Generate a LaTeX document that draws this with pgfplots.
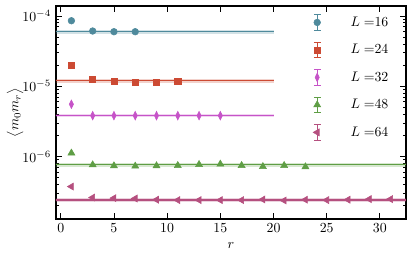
\documentclass[border=0pt]{standalone}
\usepackage{pgfplots}
\pgfplotsset{compat=1.18}
\definecolor{cA}{HTML}{4F8A9C}
\definecolor{cB}{HTML}{CC4A33}
\definecolor{cC}{HTML}{C653C8}
\definecolor{cD}{HTML}{5F9E45}
\definecolor{cE}{HTML}{B5507F}
\newcommand{\ebleg}[2]{%
  \path[draw=none,fill=none] (0cm,0cm) -- (0.3cm+22bp,0cm);
  \draw[draw=#1, line width=0.8bp] (0.3cm,-5.6bp)--(0.3cm,5.6bp) (0.3cm-2.4bp,-5.6bp)--(0.3cm+2.4bp,-5.6bp) (0.3cm-2.4bp,5.6bp)--(0.3cm+2.4bp,5.6bp);
  \draw[#2] plot coordinates {(0.3cm,0cm)};}
\pgfplotsset{ebl/.style={legend image code/.code={\ebleg{#1}{##1}}}}
\begin{document}
\begin{tikzpicture}
\begin{axis}[name=ax, scale only axis, width=252bp, height=153.4bp,
  xmin=-0.45, xmax=32.45, ymode=log, ymin=1.29e-7, ymax=1.39e-4,
  xtick={0,5,...,30}, xtick pos=both, ytick pos=both, tick align=inside,
  major tick length=4.3bp, minor tick length=2.2bp,
  axis line style={line width=0.9bp}, every tick/.style={black, line width=0.6bp},
  xlabel={$r$}, ylabel={$\big\langle m_0 m_r\big\rangle$},
  y label style={at={(axis description cs:-0.117,0.5)}, anchor=center, inner sep=0pt},
  clip=true,
  legend cell align=left,
  legend style={draw=none, fill=none, at={(0.70,0.977)}, anchor=north west, row sep=7.5bp},
]
% fit bands and lines
\addplot[forget plot, cA, opacity=0.25, line width=2.6bp] coordinates {(-1,5.98e-5) (20,5.98e-5)};
\addplot[forget plot, cA, line width=0.9bp] coordinates {(-1,5.98e-5) (20,5.98e-5)};
\addplot[forget plot, cB, opacity=0.25, line width=2.6bp] coordinates {(-1,1.20e-5) (20,1.20e-5)};
\addplot[forget plot, cB, line width=0.9bp] coordinates {(-1,1.20e-5) (20,1.20e-5)};
\addplot[forget plot, cC, opacity=0.25, line width=2.6bp] coordinates {(-1,3.82e-6) (20,3.82e-6)};
\addplot[forget plot, cC, line width=0.9bp] coordinates {(-1,3.82e-6) (20,3.82e-6)};
\addplot[forget plot, cD, opacity=0.25, line width=2.6bp] coordinates {(-1,7.62e-7) (34,7.62e-7)};
\addplot[forget plot, cD, line width=0.9bp] coordinates {(-1,7.62e-7) (34,7.62e-7)};
\addplot[forget plot, cE, opacity=0.25, line width=2.6bp] coordinates {(-1,2.40e-7) (34,2.40e-7)};
\addplot[forget plot, cE, line width=0.9bp] coordinates {(-1,2.40e-7) (34,2.40e-7)};
% data
\addplot[only marks, cA, mark=*, mark size=2.4bp, ebl=cA] coordinates {
(1,8.57e-5) (3,6.12e-5) (5,5.98e-5) (7,5.98e-5)};
\addlegendentry{$L=$16}
\addplot[only marks, cB, mark=square*, mark size=2.2bp, ebl=cB] coordinates {
(1,1.98e-5) (3,1.24e-5) (5,1.19e-5) (7,1.15e-5) (9,1.15e-5) (11,1.18e-5)};
\addlegendentry{$L=$24}
\addplot[only marks, cC, mark=diamond*, mark size=3.1bp, mark options={xscale=0.65}, ebl=cC] coordinates {
(1,5.55e-6) (3,3.82e-6) (5,3.82e-6) (7,3.82e-6) (9,3.82e-6) (11,3.82e-6) (13,3.82e-6) (15,3.82e-6)};
\addlegendentry{$L=$32}
\addplot[only marks, cD, mark=triangle*, mark size=2.9bp, ebl=cD] coordinates {
(1,1.12e-6) (3,7.62e-7) (5,7.38e-7) (7,7.30e-7) (9,7.38e-7) (11,7.45e-7) (13,7.70e-7) (15,7.80e-7) (17,7.45e-7) (19,7.20e-7) (21,7.45e-7) (23,7.14e-7)};
\addlegendentry{$L=$48}
\addplot[only marks, cE, mark=triangle*, mark size=2.9bp, mark options={rotate=90}, ebl=cE] coordinates {
(1,3.74e-7) (3,2.61e-7) (5,2.56e-7) (7,2.53e-7) (9,2.43e-7) (11,2.40e-7) (13,2.40e-7) (15,2.40e-7) (17,2.40e-7) (19,2.45e-7) (21,2.37e-7) (23,2.43e-7) (25,2.40e-7) (27,2.43e-7) (29,2.48e-7) (31,2.48e-7)};
\addlegendentry{$L=$64}
\end{axis}
\pgfresetboundingbox
\path (ax.south west) ++(-40.3bp,-26.4bp) coordinate (bl);
\path (ax.north east) ++(6.5bp,4.3bp) coordinate (tr);
\path (bl) rectangle (tr);
\end{tikzpicture}
\end{document}
